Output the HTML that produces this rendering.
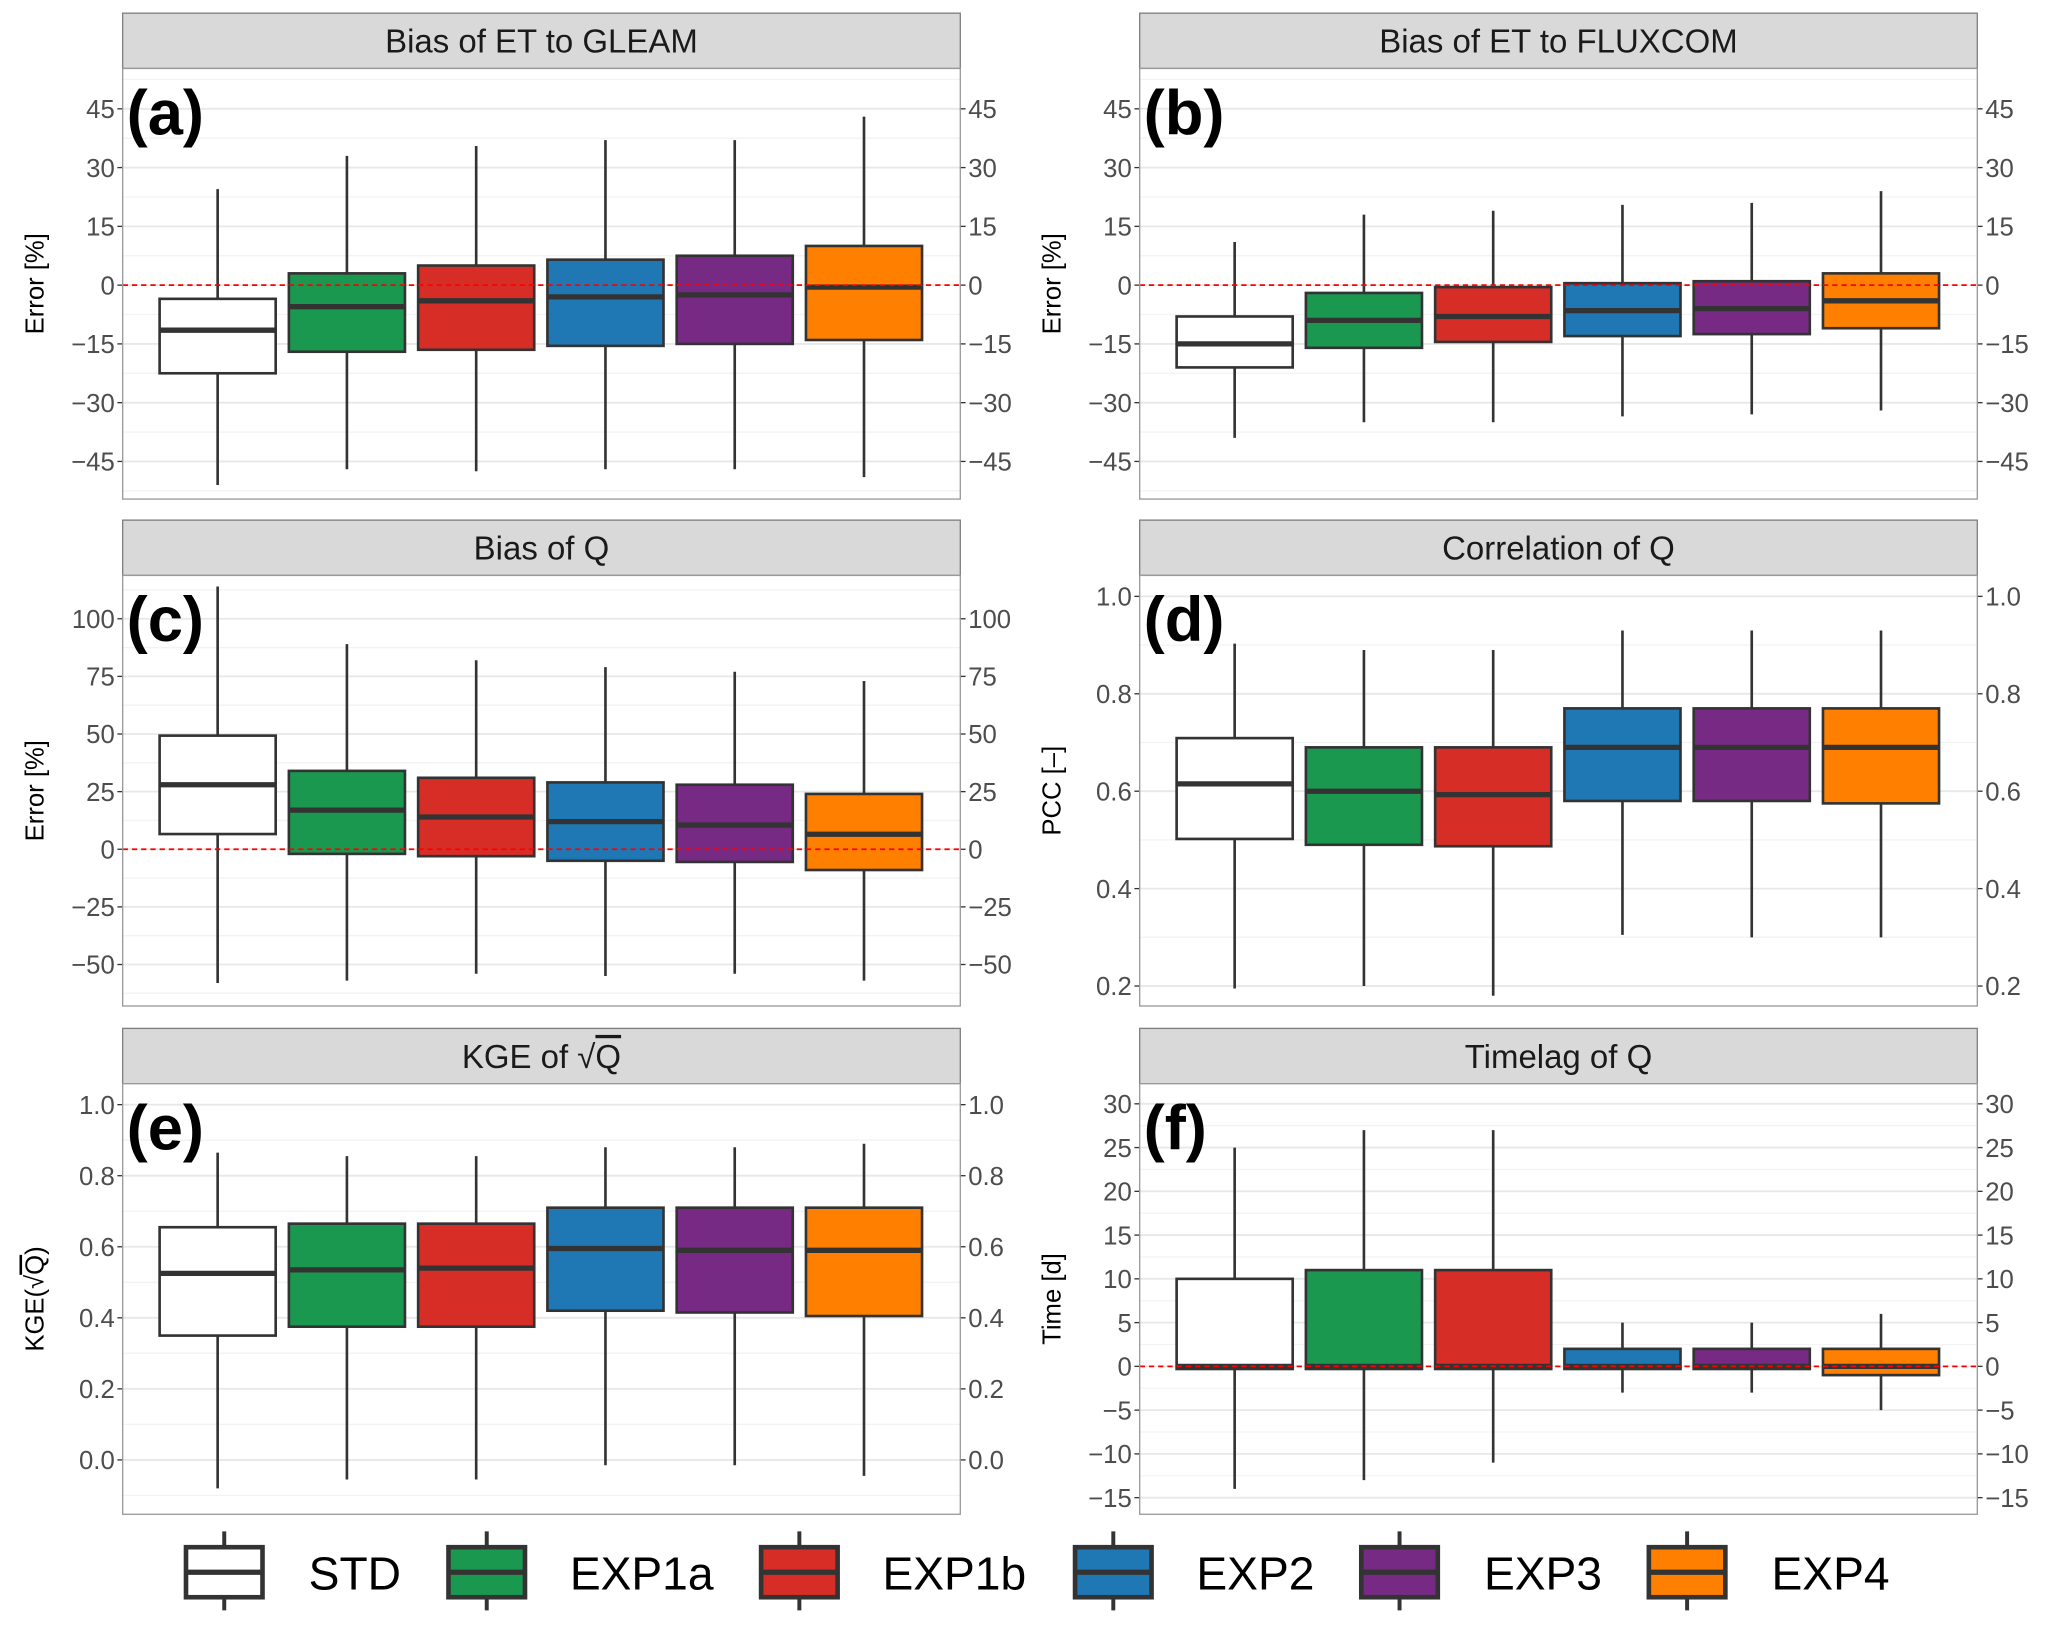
<!DOCTYPE html>
<html><head><meta charset="utf-8"><style>
html,body{margin:0;padding:0;background:#fff;}
svg{display:block;font-family:"Liberation Sans",Arial,sans-serif;}
</style></head><body>
<svg id="fig" width="2067" height="1642" viewBox="0 0 1567 1247" preserveAspectRatio="none" xmlns="http://www.w3.org/2000/svg"></svg>
<script>
const categories = ["STD","EXP1a","EXP1b","EXP2","EXP3","EXP4"];
const fills = ["#ffffff","#1b9850","#d62d26","#1f77b4","#762a83","#ff7f00"];
// each row: [low whisker, q1, median, q3, high whisker]
const statsA = [[-51,-22.5,-11.5,-3.5,24.5],[-47,-17,-5.5,3,33],[-47.5,-16.5,-4,5,35.5],[-47,-15.5,-3,6.5,37],[-47,-15,-2.5,7.5,37],[-49,-14,-0.5,10,43]];
const statsB = [[-39,-21,-15,-8,11],[-35,-16,-9,-2,18],[-35,-14.5,-8,-0.5,19],[-33.5,-13,-6.5,0.5,20.5],[-33,-12.5,-6,1,21],[-32,-11,-4,3,24]];
const statsC = [[-58,6.6,28,49.3,114],[-57,-2,17,34,89],[-54,-3,14,31,82],[-55,-5,12,29,79],[-54,-5.5,10.5,28,77],[-57,-9,6.5,24,73]];
const statsD = [[0.195,0.502,0.615,0.709,0.903],[0.2,0.49,0.6,0.69,0.89],[0.18,0.487,0.593,0.69,0.89],[0.305,0.58,0.69,0.77,0.93],[0.3,0.58,0.69,0.77,0.93],[0.3,0.575,0.69,0.77,0.93]];
const statsE = [[-0.08,0.35,0.525,0.655,0.865],[-0.055,0.375,0.535,0.665,0.855],[-0.055,0.375,0.54,0.665,0.855],[-0.015,0.42,0.595,0.71,0.88],[-0.015,0.415,0.59,0.71,0.88],[-0.045,0.405,0.59,0.71,0.89]];
const statsF = [[-14,-0.3,0,10,25],[-13,-0.3,0,11,27],[-11,-0.3,0,11,27],[-3,-0.3,0,2,5],[-3,-0.3,0,2,5],[-5,-1,0,2,6]];
const ticksA = [-45,-30,-15,0,15,30,45];
const ticksC = [-50,-25,0,25,50,75,100];
const ticksD = [0.2,0.4,0.6,0.8,1.0];
const ticksE = [0.0,0.2,0.4,0.6,0.8,1.0];
const ticksF = [-15,-10,-5,0,5,10,15,20,25,30];

const NS="http://www.w3.org/2000/svg";
const svg=document.getElementById('fig');
function mk(tag,attrs,parent){const e=document.createElementNS(NS,tag);for(const k in attrs)e.setAttribute(k,attrs[k]);(parent||svg).appendChild(e);return e;}

const panels=[
 {id:'a',title:'Bias of ET to GLEAM',x0:93,top:10,stats:statsA,ticks:ticksA,dom:[-54.6,55.3],minor:7.5,fmt:v=>String(v),ytitle:'Error [%]',zero:true},
 {id:'b',title:'Bias of ET to FLUXCOM',x0:864,top:10,stats:statsB,ticks:ticksA,dom:[-54.6,55.3],minor:7.5,fmt:v=>String(v),ytitle:'Error [%]',zero:true},
 {id:'c',title:'Bias of Q',x0:93,top:395,stats:statsC,ticks:ticksC,dom:[-68,118.8],minor:12.5,fmt:v=>String(v),ytitle:'Error [%]',zero:true},
 {id:'d',title:'Correlation of Q',x0:864,top:395,stats:statsD,ticks:ticksD,dom:[0.159,1.043],minor:0.1,fmt:v=>v.toFixed(1),ytitle:'PCC [\u2013]',zero:false},
 {id:'e',title:'KGE',x0:93,top:781,stats:statsE,ticks:ticksE,dom:[-0.153,1.059],minor:0.1,fmt:v=>v.toFixed(1),ytitle:'KGE',zero:false,sqrt:true},
 {id:'f',title:'Timelag of Q',x0:864,top:781,stats:statsF,ticks:ticksF,dom:[-16.9,32.3],minor:2.5,fmt:v=>String(v),ytitle:'Time [d]',zero:true}
];
const W=635, SH=42, PH=327;
function fmtMinus(s){return s.replace('-','\u2212');}

panels.forEach(p=>{
 const g=mk('g',{});
 
 
 const y0=p.top+SH, y1=y0+PH, x0=p.x0, x1=x0+W;
 const ys=v=>y1-(v-p.dom[0])/(p.dom[1]-p.dom[0])*PH;
 const xs=i=>x0+72+i*98;
 const strip=mk('rect',{x:x0,y:p.top,width:W,height:SH,fill:'#d9d9d9',stroke:'#7f7f7f','stroke-width':1},g);
 
 
 const st=mk('text',{x:x0+W/2,y:p.top+30,'text-anchor':'middle','font-size':25,fill:'#1a1a1a'},g);
 
 
 if(p.sqrt){st.textContent='KGE of \u221A';const t=mk('tspan',{'text-decoration':'overline'},st);t.textContent='Q';}
 else st.textContent=p.title;
 mk('rect',{x:x0,y:y0,width:W,height:PH,fill:'#fff'},g);
 let start=Math.ceil(p.dom[0]/p.minor)*p.minor;
 for(let v=start;v<=p.dom[1]+1e-9;v+=p.minor){mk('line',{x1:x0,x2:x1,y1:ys(v),y2:ys(v),stroke:'#f3f3f3','stroke-width':1},g);}
 p.ticks.forEach(v=>{
  mk('line',{x1:x0,x2:x1,y1:ys(v),y2:ys(v),stroke:'#e8e8e8','stroke-width':1.4},g);
  mk('line',{x1:x0-4,x2:x0,y1:ys(v),y2:ys(v),stroke:'#333','stroke-width':1},g);
  mk('line',{x1:x1,x2:x1+4,y1:ys(v),y2:ys(v),stroke:'#333','stroke-width':1},g);
  const tl=mk('text',{x:x0-6,y:ys(v)+7,'text-anchor':'end','font-size':19.5,fill:'#4d4d4d'},g);
  
  
  tl.textContent=fmtMinus(p.fmt(v));
  const tr=mk('text',{x:x1+6,y:ys(v)+7,'text-anchor':'start','font-size':19.5,fill:'#4d4d4d'},g);
  
  
  tr.textContent=fmtMinus(p.fmt(v));
 });
 p.stats.forEach((s,i)=>{
  const bg=mk('g',{},g);
  
  
  const cx=xs(i);
  mk('line',{x1:cx,x2:cx,y1:ys(s[4]),y2:ys(s[0]),stroke:'#333','stroke-width':2},bg);
  mk('rect',{x:cx-44,y:ys(s[3]),width:88,height:Math.max(ys(s[1])-ys(s[3]),0.5),fill:fills[i],stroke:'#333','stroke-width':2},bg);
  mk('line',{x1:cx-44,x2:cx+44,y1:ys(s[2]),y2:ys(s[2]),stroke:'#333','stroke-width':4},bg);
 });
 if(p.zero){const z=mk('line',{x1:x0,x2:x1,y1:ys(0),y2:ys(0),stroke:'#ff0000','stroke-width':1.3,'stroke-dasharray':'4,3'},g);
  }
 mk('rect',{x:x0,y:y0,width:W,height:PH,fill:'none',stroke:'#999','stroke-width':1},g);
 const lab=mk('text',{x:x0+3,y:y0+50,'font-size':48,'font-weight':'bold',fill:'#000'},g);
 
 
 lab.textContent='('+p.id+')';
 const tx=x0-60, ty=y0+PH/2;
 const yt=mk('text',{x:tx,y:ty,'text-anchor':'middle','font-size':19.5,fill:'#000',transform:`rotate(-90 ${tx} ${ty})`},g);
 
 
 if(p.sqrt){yt.textContent='KGE(\u221A';const t=mk('tspan',{'text-decoration':'overline'},yt);t.textContent='Q';const t2=mk('tspan',{},yt);t2.textContent=')';}
 else yt.textContent=p.ytitle;
});

const legX=[141,340,577,815,1032,1250];
const labX=[234,432,669,907,1125,1343];
categories.forEach((c,i)=>{
 const lg=mk('g',{});
 
 
 const cx=legX[i]+29;
 mk('line',{x1:cx,x2:cx,y1:1163,y2:1223,stroke:'#333','stroke-width':3},lg);
 mk('rect',{x:legX[i],y:1175,width:58,height:38,fill:fills[i],stroke:'#333','stroke-width':3.5},lg);
 mk('line',{x1:legX[i],x2:legX[i]+58,y1:1194,y2:1194,stroke:'#333','stroke-width':4},lg);
 const t=mk('text',{x:labX[i],y:1207,'font-size':35,fill:'#000'},lg);
 t.textContent=c;
});
</script>
</body></html>
